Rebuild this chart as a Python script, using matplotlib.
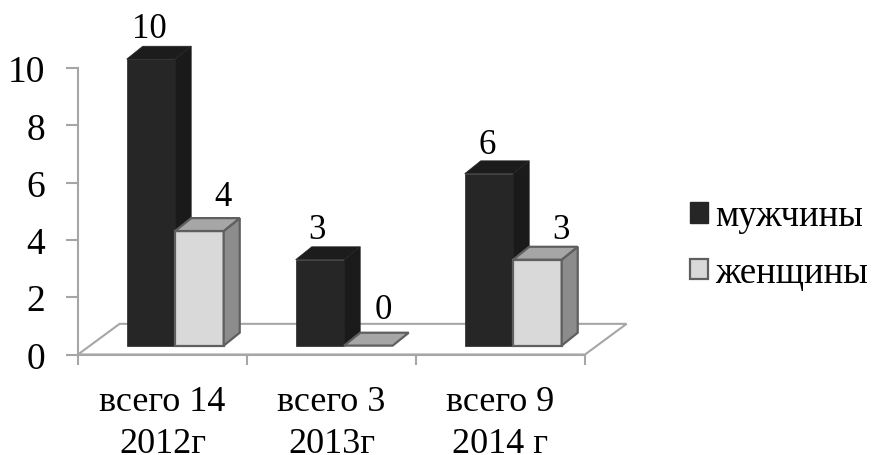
"""
3D-look grouped bars drawn on a plain 2D axes
"""
import matplotlib as mpl
mpl.use('Agg')
import matplotlib.pyplot as plt
from matplotlib.patches import Patch, Polygon

plt.rcParams['font.family'] = ['Liberation Serif', 'DejaVu Serif']

categories = ['всего 14\n2012г', 'всего 3\n2013г', 'всего 9\n2014 г']
men = [10, 3, 6]
women = [4, 0, 3]
series_names = ['мужчины', 'женщины']
y_ticks = [0, 2, 4, 6, 8, 10]

W, H = 876, 456
AX_L, AX_R, AX_T, AX_B = 78, 585, 69, 355.5

# depth of the floor and of the bars, in data units
FLOOR_DX, FLOOR_DY = 0.246, 1.07
BAR_DX, BAR_DY = 0.095, 0.45
BASE_DY = 0.31
BAR_W = 0.287
BAR_START = 0.288

GREY = '#a6a6a6'
DARK = ('#262626', '#1a1a1a', '#1c1c1c', '#262626')
LIGHT = ('#d9d9d9', '#8c8c8c', '#a6a6a6', '#5f5f5f')


def DrawBar(ax, x, value, colors):
    front, side, top, edge = colors
    y0, y1 = BASE_DY, BASE_DY + value
    lw = 1.6 if edge != DARK[3] else 0.5
    if value > 0:
        ax.bar(x, value, BAR_W, bottom=y0, align='edge', color=front,
               edgecolor=edge, linewidth=lw, zorder=3, clip_on=False)
        ax.add_patch(Polygon([(x + BAR_W, y0), (x + BAR_W + BAR_DX, y0 + BAR_DY),
                              (x + BAR_W + BAR_DX, y1 + BAR_DY), (x + BAR_W, y1)],
                             fc=side, ec=edge, lw=lw, zorder=3, clip_on=False))
    ax.add_patch(Polygon([(x, y1), (x + BAR_DX, y1 + BAR_DY),
                          (x + BAR_W + BAR_DX, y1 + BAR_DY), (x + BAR_W, y1)],
                         fc=top, ec=edge, lw=lw, zorder=3, clip_on=False))


fig = plt.figure(figsize=(W / 100, H / 100), dpi=100)
ax = fig.add_axes([AX_L / W, 1 - AX_B / H, (AX_R - AX_L) / W, (AX_B - AX_T) / H])
ax.set_xlim(0, len(categories))
ax.set_ylim(0, 10)
ax.patch.set_visible(False)

for s in ['top', 'right']:
    ax.spines[s].set_visible(False)
for s in ['left', 'bottom']:
    ax.spines[s].set_color(GREY)
    ax.spines[s].set_linewidth(1.5)

ax.set_yticks(y_ticks)
ax.set_xticks(range(len(categories) + 1))
ax.set_xticklabels([])
ax.set_xticks([i + 0.5 for i in range(len(categories))], minor=True)
ax.set_xticklabels(categories, minor=True, fontsize=26, linespacing=1.36)
ax.tick_params(axis='y', length=8.5, width=1.5, color=GREY, labelsize=27, pad=15)
ax.tick_params(axis='x', which='major', length=7, width=1.5, color=GREY)
ax.tick_params(axis='x', which='minor', length=0, pad=22)

# floor
n = len(categories)
ax.add_patch(Polygon([(0, 0), (FLOOR_DX, FLOOR_DY), (n + FLOOR_DX, FLOOR_DY), (n, 0)],
                     fc='white', ec=GREY, lw=1.5, zorder=1, clip_on=False))

# label offsets in points from the front face of each bar
men_label_dx = [-1, -2, -1]
women_label_dx = [17, 11, 17]
men_label_dy = [22, 22, 21]
women_label_dy = [25, 26, 21.5]

for i in range(n):
    x0 = i + BAR_START
    DrawBar(ax, x0, men[i], DARK)
    DrawBar(ax, x0 + BAR_W, women[i], LIGHT)
    ax.annotate(str(men[i]), (x0 + BAR_W / 2, BASE_DY + men[i]),
                xytext=(men_label_dx[i], men_label_dy[i]), textcoords='offset points',
                ha='center', va='center', fontsize=25, annotation_clip=False, zorder=5)
    ax.annotate(str(women[i]), (x0 + 1.5 * BAR_W, BASE_DY + women[i]),
                xytext=(women_label_dx[i], women_label_dy[i]), textcoords='offset points',
                ha='center', va='center', fontsize=25, annotation_clip=False, zorder=5)

handles = [Patch(fc=DARK[0], ec=DARK[0]), Patch(fc=LIGHT[0], ec=LIGHT[3], lw=1.6)]
fig.legend(handles, series_names, loc='upper left', bbox_to_anchor=(690 / W, 1 - 200 / H),
           frameon=False, fontsize=26.5, handlelength=0.49, handleheight=0.49,
           handletextpad=0.2, labelspacing=0.6, borderpad=0, borderaxespad=0)

fig.savefig('out.png', dpi=100)
